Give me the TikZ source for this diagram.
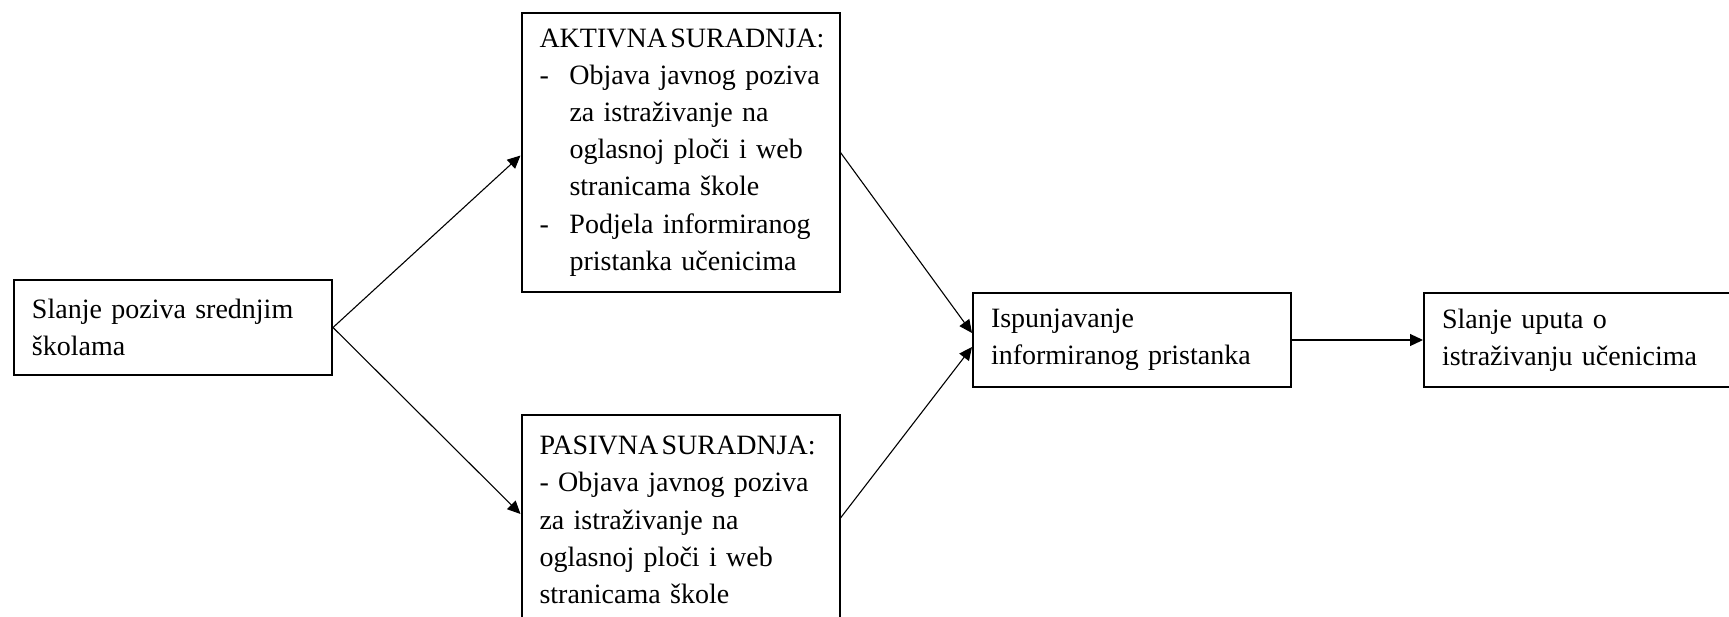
\documentclass[tikz,border=0pt]{standalone}
\usepackage{fontspec}
\setmainfont{Liberation Serif}
\usetikzlibrary{arrows.meta}
\begin{document}
\begin{tikzpicture}[x=0.5pt,y=-0.5pt,
  box/.style={draw, line width=1pt, anchor=north west, align=left,
    inner ysep=0pt, inner xsep=9pt, text width=141pt,
    font=\fontsize{14}{18.6}\selectfont},
  conn/.style={line width=0.55pt, -{Triangle[length=6.5pt,width=6pt]}}]
\useasboundingbox (0,0) rectangle (1729,616);
\fill[white] (0,0) rectangle (1729,616);
\clip (0,0) rectangle (1729,616);
\node[box, minimum height=47.5pt] (a) at (13,279) {Slanje poziva srednjim\\ školama};
\node[box, minimum height=139.5pt] (akt) at (520.5,12) {\mbox{AKTIVNA\hspace{0.12em}SURADNJA:}\\
\makebox[15pt][l]{-}Objava javnog poziva\\
\hspace*{15pt}za istraživanje na\\
\hspace*{15pt}oglasnoj ploči i web\\
\hspace*{15pt}stranicama škole\\
\makebox[15pt][l]{-}Podjela informiranog\\
\hspace*{15pt}pristanka učenicima};
\node[box, minimum height=105pt] (pas) at (520.5,414) {\mbox{PASIVNA\hspace{0.12em}SURADNJA:}\\
- Objava javnog poziva\\
za istraživanje na\\
oglasnoj ploči i web\\
stranicama škole};
\node[box, minimum height=47pt] (isp) at (972,292) {Ispunjavanje\\ informiranog pristanka};
\node[box, minimum height=47pt] (upu) at (1423,292) {Slanje uputa o\\ istraživanju učenicima};
\draw[conn] (a.east) -- ([yshift=-1.5pt]akt.west);
\draw[conn] (a.east) -- ([yshift=3pt]pas.west);
\draw[conn] (akt.east) -- ([yshift=3.5pt]isp.west);
\draw[conn] ([yshift=1pt]pas.east) -- ([yshift=-3.5pt]isp.west);
\draw[conn] (isp.east) -- (upu.west);
\end{tikzpicture}
\end{document}
